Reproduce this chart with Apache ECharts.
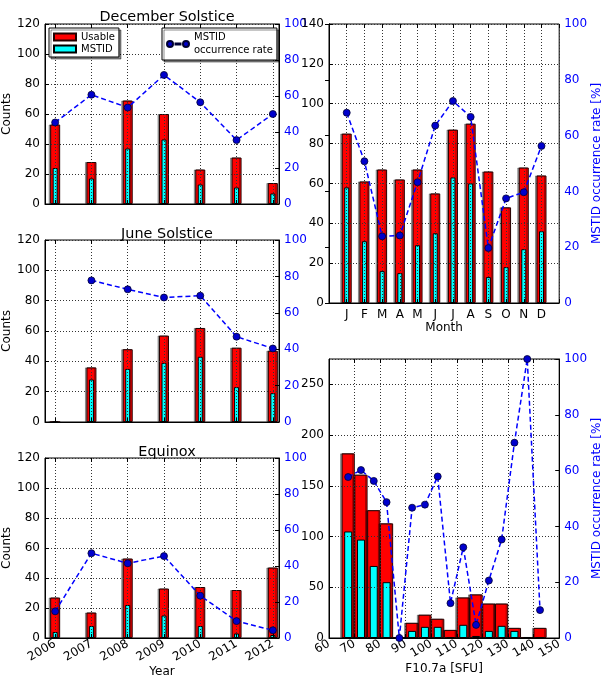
<!DOCTYPE html>
<html>
<head>
<meta charset="utf-8">
<script src="https://cdn.jsdelivr.net/npm/echarts@6/dist/echarts.min.js"></script>
<style>html,body{margin:0;padding:0;background:#fff;}#chart{width:604px;height:681px;}</style>
</head>
<body>
<div id="chart"></div>
<script>
// ---------- data ----------
const years = [2006, 2007, 2008, 2009, 2010, 2011, 2012];
const decUsable = [53, 28, 69, 60, 23, 31, 14];
const decMstid  = [24, 17, 37, 43, 13, 11, 7];
const decRate   = [45.3, 60.7, 53.6, 71.7, 56.5, 35.5, 50.0];
const junUsable = [0, 36, 48, 57, 62, 49, 47];
const junMstid  = [0, 28, 35, 39, 43, 23, 19];
const junRate   = [null, 77.8, 72.9, 68.4, 69.4, 46.9, 40.4];
const equUsable = [27, 17, 53, 33, 34, 32, 47];
const equMstid  = [4, 8, 22, 15, 8, 3, 2];
const equRate   = [14.8, 47.1, 41.5, 45.5, 23.5, 9.4, 4.3];

const months    = ['J','F','M','A','M','J','J','A','S','O','N','D'];
const monUsable = [85, 61, 67, 62, 67, 55, 87, 90, 66, 48, 68, 64];
const monMstid  = [58, 31, 16, 15, 29, 35, 63, 60, 13, 18, 27, 36];
const monRate   = [68.2, 50.8, 23.9, 24.2, 43.3, 63.6, 72.4, 66.7, 19.7, 37.5, 39.7, 56.3];

const f107Centers = [67.5, 72.5, 77.5, 82.5, 87.5, 92.5, 97.5, 102.5, 107.5, 112.5, 117.5, 122.5, 127.5, 132.5, 137.5, 142.5];
const f107Usable  = [182, 161, 126, 113, 1, 15, 23, 19, 8, 40, 43, 34, 34, 10, 1, 10];
const f107Mstid   = [105, 97, 71, 55, 0, 7, 11, 11, 1, 13, 2, 7, 12, 7, 1, 1];
const f107Rate    = [57.7, 60.2, 56.3, 48.7, 0, 46.7, 47.8, 57.9, 12.5, 32.5, 4.7, 20.6, 35.3, 70, 100, 10];

const panelTitles = ['December Solstice', 'June Solstice', 'Equinox'];
// ---------- chart ----------
const FONT = 'DejaVu Sans';
const FS = 12;
const chart = echarts.init(document.getElementById('chart'), null, {renderer: 'canvas'});

const grids = [
  {left: 45, top: 24, width: 234, height: 180},
  {left: 45, top: 240, width: 234, height: 182},
  {left: 45, top: 458, width: 234, height: 180},
  {left: 329, top: 24, width: 238, height: 279},
  {left: 329, top: 359, width: 238, height: 279}
].map(g => Object.assign(g, {show: true, borderColor: '#000', borderWidth: 1, backgroundColor: 'transparent'}));

const gridSplit = {show: true, lineStyle: {color: '#333', width: 1, type: [1, 2]}};
const tick = {show: true, inside: true, length: 4, lineStyle: {color: '#000'}};
const axLine = {show: true, lineStyle: {color: '#000', width: 1}};

function yearAxis(gi, labels, hidden) {
  return {
    type: 'value', gridIndex: gi, min: 2005.72, max: 2012.17, minInterval: 1, maxInterval: 1,
    show: !hidden, z: 2,
    name: labels ? 'Year' : '', nameLocation: 'middle', nameGap: 27,
    nameTextStyle: {fontFamily: FONT, fontSize: FS, color: '#000'},
    axisLine: axLine, axisTick: tick,
    axisLabel: {show: labels, rotate: 30, margin: 5, fontFamily: FONT, fontSize: FS, color: '#000',
      showMinLabel: false, showMaxLabel: false,
      formatter: v => Number.isInteger(v) ? String(v) : ''},
    splitLine: gridSplit
  };
}
const monthAxis = (hidden) => ({
  type: 'value', gridIndex: 3, min: 0, max: 13, interval: 1, show: !hidden, z: 2,
  name: 'Month', nameLocation: 'middle', nameGap: 17,
  nameTextStyle: {fontFamily: FONT, fontSize: FS, color: '#000'},
  axisLine: axLine, axisTick: tick,
  axisLabel: {margin: 6, fontFamily: FONT, fontSize: FS, color: '#000',
    formatter: v => months[v - 1] || ''},
  splitLine: gridSplit
});
const f107Axis = (hidden) => ({
  type: 'value', gridIndex: 4, min: 60, max: 150, interval: 10, show: !hidden, z: 2,
  name: 'F10.7a [SFU]', nameLocation: 'middle', nameGap: 25,
  nameTextStyle: {fontFamily: FONT, fontSize: FS, color: '#000'},
  axisLine: axLine, axisTick: tick,
  axisLabel: {rotate: 30, margin: 5, fontFamily: FONT, fontSize: FS, color: '#000'},
  splitLine: gridSplit
});
function topTicks(ax) {
  return Object.assign({}, ax, {position: 'top', name: '', show: true,
    axisLine: {show: false}, axisLabel: {show: false}, splitLine: {show: false}});
}

const baseX = [
  yearAxis(0, false, false), yearAxis(1, false, false), yearAxis(2, true, false),
  monthAxis(false), f107Axis(false)
];
const xAxes = baseX.concat([
  yearAxis(0, false, true), yearAxis(1, false, true), yearAxis(2, false, true),
  monthAxis(true), f107Axis(true)
]).concat(baseX.map(topTicks));

function leftAxis(gi, max, interval, name) {
  return {
    type: 'value', gridIndex: gi, position: 'left', min: 0, max: max, interval: interval, z: 2,
    name: name, nameLocation: 'middle', nameGap: 27, nameRotate: 90,
    nameTextStyle: {fontFamily: FONT, fontSize: FS, color: '#000'},
    axisLine: axLine, axisTick: tick,
    axisLabel: {margin: 5, fontFamily: FONT, fontSize: FS, color: '#000', showMaxLabel: max % interval === 0},
    splitLine: gridSplit
  };
}
function rightAxis(gi, name) {
  return {
    type: 'value', gridIndex: gi, position: 'right', min: 0, max: 100, interval: 20, z: 2,
    name: name, nameLocation: 'middle', nameGap: 26, nameRotate: 90,
    nameTextStyle: {fontFamily: FONT, fontSize: 12, color: '#0000ff'},
    axisLine: axLine, axisTick: tick,
    axisLabel: {margin: 5, fontFamily: FONT, fontSize: FS, color: '#0000ff'},
    splitLine: {show: false}
  };
}
const yAxes = [
  leftAxis(0, 120, 20, 'Counts'), rightAxis(0, ''),
  leftAxis(1, 120, 20, 'Counts'), rightAxis(1, ''),
  leftAxis(2, 120, 20, 'Counts'), rightAxis(2, ''),
  leftAxis(3, 140, 20, ''), rightAxis(3, 'MSTID occurrence rate [%]'),
  leftAxis(4, 275, 50, ''), rightAxis(4, 'MSTID occurrence rate [%]')
];

const redStyle = {color: '#ff0000', borderColor: '#220000', borderWidth: 1,
  shadowColor: 'rgba(0,0,0,0.35)', shadowOffsetX: -1.5, shadowBlur: 0};
const cyanStyle = {color: '#00ffff', borderColor: '#000', borderWidth: 1};

function panelSeries(gi, xs, usable, mstid, rate, redW, cyanW) {
  return [
    {name: 'Usable', type: 'bar', xAxisIndex: gi, yAxisIndex: gi * 2, barWidth: redW, z: 1,
      itemStyle: redStyle, data: xs.map((x, i) => [x, usable[i]])},
    {name: 'MSTID', type: 'bar', xAxisIndex: gi + 5, yAxisIndex: gi * 2, barWidth: cyanW, z: 1,
      itemStyle: cyanStyle, data: xs.map((x, i) => [x, mstid[i]])},
    {name: 'MSTID occurrence rate', type: 'line', xAxisIndex: gi, yAxisIndex: gi * 2 + 1, z: 3,
      symbol: 'circle', symbolSize: 7, connectNulls: false,
      itemStyle: {color: '#0000cc', borderColor: '#000033', borderWidth: 0.8},
      lineStyle: {color: '#0000ff', width: 1.5, type: [5, 3]},
      data: xs.map((x, i) => [x, rate[i]])}
  ];
}
const monthPos = months.map((m, i) => i + 1);

const series = [].concat(
  panelSeries(0, years, decUsable, decMstid, decRate, 10, 5),
  panelSeries(1, years, junUsable, junMstid, junRate, 10, 5),
  panelSeries(2, years, equUsable, equMstid, equRate, 10, 5),
  panelSeries(3, monthPos, monUsable, monMstid, monRate, 10, 5),
  panelSeries(4, f107Centers, f107Usable, f107Mstid, f107Rate, 13.2, 8)
);

const titles = panelTitles.map((t, i) => ({
  text: t, left: 162, textAlign: 'center', top: [5, 222, 440][i],
  textStyle: {fontFamily: FONT, fontSize: 14.4, fontWeight: 'normal', color: '#000'}
}));

const legendBox = {backgroundColor: '#fff', borderColor: '#000', borderWidth: 1,
  shadowColor: 'rgba(0,0,0,0.45)', shadowOffsetX: 2, shadowOffsetY: 2, shadowBlur: 0, z: 10};

const option = {
  animation: false,
  textStyle: {fontFamily: FONT},
  title: titles,
  grid: grids,
  xAxis: xAxes,
  yAxis: yAxes,
  legend: [
    Object.assign({
      left: 49, top: 28, orient: 'vertical', padding: [4, 4, 3, 4], itemGap: 2,
      itemWidth: 22, itemHeight: 7, icon: 'rect', selectedMode: false,
      data: ['Usable', 'MSTID'],
      textStyle: {fontFamily: FONT, fontSize: 10, color: '#000'}
    }, legendBox),
    Object.assign({
      left: 162, top: 28, orient: 'vertical', padding: [3, 4, 3, 4],
      itemWidth: 22, itemHeight: 8, selectedMode: false,
      data: [{name: 'MSTID occurrence rate',
        icon: 'path://M0,4 A3,3 0 1,1 6,4 A3,3 0 1,1 0,4 Z M8.5,3.4 L13.5,3.4 L13.5,4.6 L8.5,4.6 Z M16,4 A3,3 0 1,1 22,4 A3,3 0 1,1 16,4 Z'}],
      formatter: () => 'MSTID\noccurrence rate',
      textStyle: {fontFamily: FONT, fontSize: 10, color: '#000', lineHeight: 13}
    }, legendBox)
  ],
  series: series
};
chart.setOption(option);
</script>
</body>
</html>
